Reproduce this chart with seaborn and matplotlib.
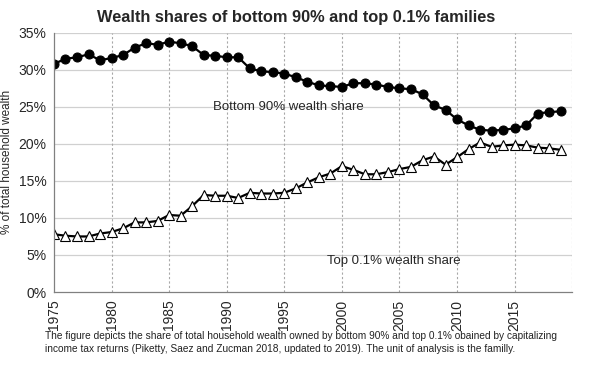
import matplotlib
matplotlib.use("Agg")
import matplotlib.pyplot as plt
import seaborn as sns
import numpy as np
import pandas as pd
from matplotlib.ticker import PercentFormatter

years = list(range(1975, 2020))
bottom90 = [30.8, 31.5, 31.7, 32.1, 31.3, 31.6, 32.0, 33.0, 33.6, 33.4,
            33.8, 33.6, 33.2, 32.0, 31.9, 31.7, 31.7, 30.2, 29.8, 29.7,
            29.5, 29.0, 28.4, 27.9, 27.8, 27.7, 28.2, 28.2, 28.0, 27.7,
            27.5, 27.4, 26.7, 25.2, 24.6, 23.3, 22.5, 21.9, 21.8, 21.9,
            22.1, 22.5, 24.1, 24.3, 24.4]
top01 = [7.8, 7.6, 7.5, 7.5, 7.9, 8.1, 8.6, 9.4, 9.4, 9.6,
         10.4, 10.3, 11.6, 13.1, 13.0, 13.0, 12.7, 13.4, 13.3, 13.3,
         13.4, 14.0, 14.8, 15.5, 16.0, 17.0, 16.5, 15.9, 15.9, 16.2,
         16.6, 16.9, 17.8, 18.3, 17.2, 18.2, 19.3, 20.2, 19.6, 19.8,
         19.9, 19.8, 19.5, 19.4, 19.2]

df = pd.DataFrame({'year': years, 'bottom90': bottom90, 'top01': top01})

sns.set_style("white")
plt.rcParams['font.family'] = ['Liberation Sans', 'DejaVu Sans']

fig = plt.figure(figsize=(5.93, 3.65), dpi=100)
ax = fig.add_axes([0.091, 0.2, 0.874, 0.71])

sns.lineplot(data=df, x='year', y='bottom90', ax=ax, color='black', lw=1.6,
             marker='o', markersize=6.5, markerfacecolor='black',
             markeredgecolor='black')
sns.lineplot(data=df, x='year', y='top01', ax=ax, color='black', lw=1.6,
             marker='^', markersize=7, markerfacecolor='white',
             markeredgecolor='black', markeredgewidth=0.8)

ax.set_xlim(1975, 2020)
ax.set_ylim(0, 35)
ax.set_xticks(range(1975, 2020, 5))
ax.set_yticks(range(0, 36, 5))
ax.yaxis.set_major_formatter(PercentFormatter(decimals=0))
ax.tick_params(axis='x', labelrotation=90, labelsize=10, pad=2)
ax.tick_params(axis='y', labelsize=10, pad=2)

for y in range(5, 36, 5):
    ax.axhline(y, color='#d0d0d0', lw=0.9, zorder=0)
for x in range(1980, 2021, 5):
    ax.axvline(x, color='#a8a8a8', lw=0.8, ls=(0, (2, 2)), zorder=0)

for s in ['top', 'right']:
    ax.spines[s].set_visible(False)
for s in ['left', 'bottom']:
    ax.spines[s].set_color('#808080')
    ax.spines[s].set_linewidth(0.9)

ax.set_xlabel('')
ax.set_ylabel('% of total household wealth', fontsize=8.5, labelpad=4)

ax.text(1988.8, 25.0, 'Bottom 90% wealth share', fontsize=9.5, va='center')
ax.text(1998.7, 4.2, 'Top 0.1% wealth share', fontsize=9.5, va='center')

fig.text(0.5, 0.953, 'Wealth shares of bottom 90% and top 0.1% families',
         ha='center', va='center', fontsize=11.8, fontweight='bold')
fig.text(0.076, 0.062,
         'The figure depicts the share of total household wealth owned by bottom 90% and top 0.1% obained by capitalizing\n'
         'income tax returns (Piketty, Saez and Zucman 2018, updated to 2019). The unit of analysis is the familly.',
         ha='left', va='center', fontsize=7.3, linespacing=1.3, color='#222222')

fig.savefig('out.png', dpi=100)
